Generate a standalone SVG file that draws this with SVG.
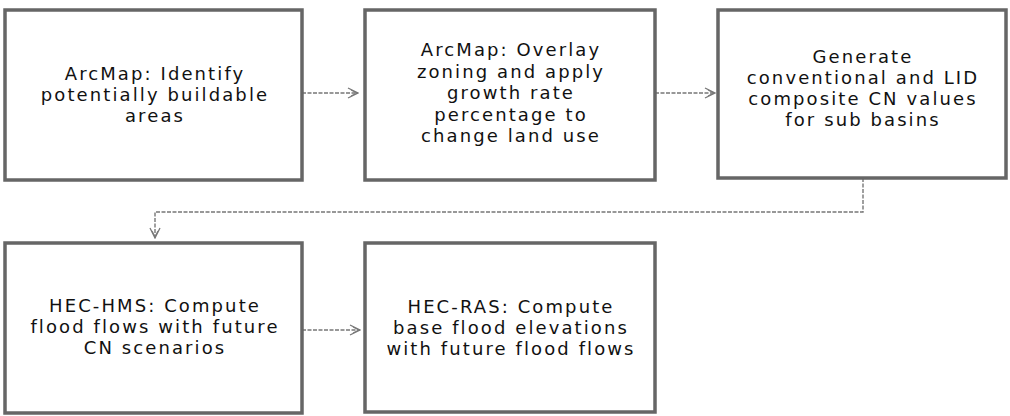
<svg xmlns="http://www.w3.org/2000/svg" width="1010" height="416" viewBox="0 0 1010 416">
<style>
.box{fill:#fff;stroke:#666;stroke-width:3.5}
.t{font-family:"DejaVu Sans",sans-serif;font-size:18px;fill:#111;text-anchor:middle;letter-spacing:2.1px}
.c{fill:none;stroke:#777;stroke-width:1.4;stroke-dasharray:4 1.5}
</style>
<defs>
<marker id="ah" viewBox="0 0 12 12" refX="11" refY="6" markerWidth="12" markerHeight="12" markerUnits="userSpaceOnUse" orient="auto">
<path d="M1,1 L11,6 L1,11 M4,3 L10,6 L4,9" fill="none" stroke="#777" stroke-width="1.3"/>
</marker>
</defs>
<rect width="1010" height="416" fill="#fff"/>
<g id="connectors">
<path class="c" d="M302,93 H358" marker-end="url(#ah)"/>
<path class="c" d="M655,93 H715" marker-end="url(#ah)"/>
<path class="c" d="M863,178 V212 H155 V238" marker-end="url(#ah)"/>
<path class="c" d="M302,330 H360" marker-end="url(#ah)"/>
</g>
<g id="n1">
<rect class="box" x="5" y="10" width="297" height="170"/>
<text class="t" x="155" y="80">ArcMap: Identify</text>
<text class="t" x="155" y="101">potentially buildable</text>
<text class="t" x="155" y="122">areas</text>
</g>
<g id="n2">
<rect class="box" x="365" y="10" width="290" height="170"/>
<text class="t" x="511" y="56">ArcMap: Overlay</text>
<text class="t" x="511" y="77.5">zoning and apply</text>
<text class="t" x="511" y="99">growth rate</text>
<text class="t" x="511" y="120.5">percentage to</text>
<text class="t" x="511" y="142">change land use</text>
</g>
<g id="n3">
<rect class="box" x="718" y="10" width="288" height="168"/>
<text class="t" x="863" y="63">Generate</text>
<text class="t" x="863" y="84">conventional and LID</text>
<text class="t" x="863" y="105">composite CN values</text>
<text class="t" x="863" y="126">for sub basins</text>
</g>
<g id="n4">
<rect class="box" x="5" y="243" width="297" height="170"/>
<text class="t" x="155" y="312">HEC-HMS: Compute</text>
<text class="t" x="155" y="333">flood flows with future</text>
<text class="t" x="155" y="354">CN scenarios</text>
</g>
<g id="n5">
<rect class="box" x="365" y="243" width="290" height="169"/>
<text class="t" x="511" y="313">HEC-RAS: Compute</text>
<text class="t" x="511" y="334">base flood elevations</text>
<text class="t" x="511" y="355">with future flood flows</text>
</g>
</svg>
